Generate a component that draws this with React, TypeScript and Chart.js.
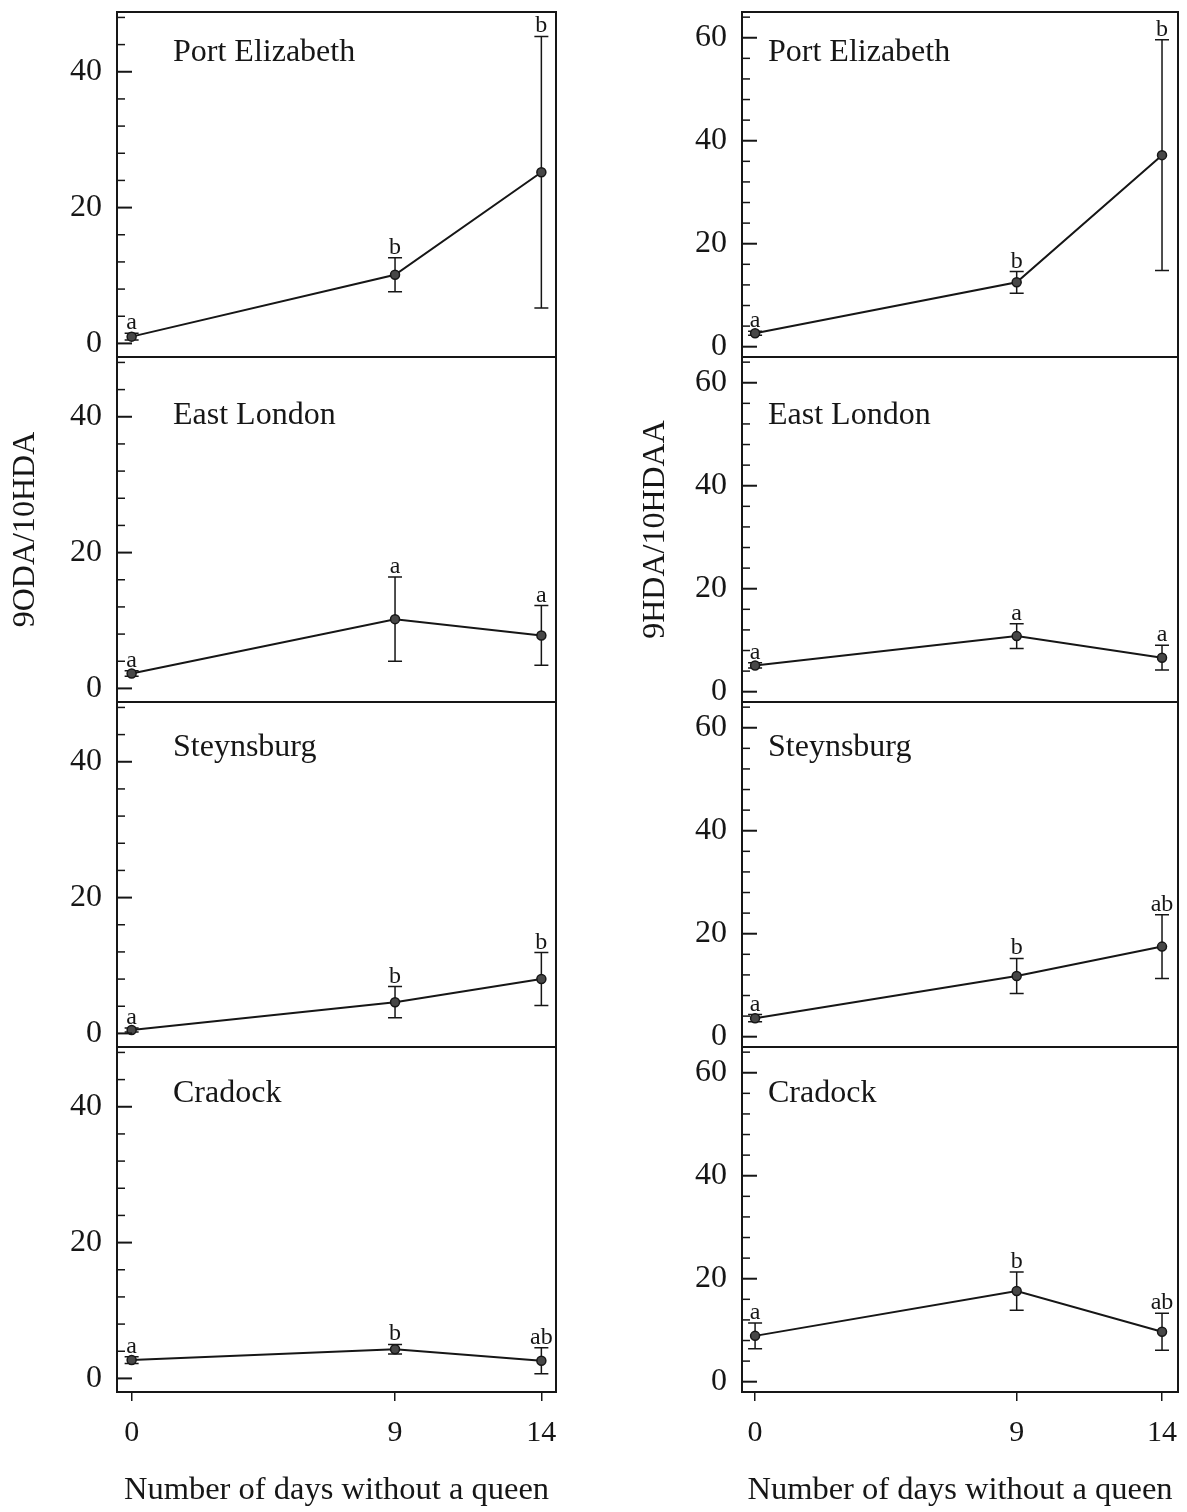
import React, { useEffect, useRef } from "react";
import { Chart, registerables } from "chart.js";

Chart.register(...registerables);

// ---------------- data ----------------
const DAYS = [0, 9, 14];
const SITES = ["Port Elizabeth", "East London", "Steynsburg", "Cradock"];
const X_TITLE = "Number of days without a queen";

// 9ODA/10HDA (left column)
const ODA_PE = [1.0, 10.1, 25.2];
const ODA_PE_ERR = [0.5, 2.5, 20.0];
const ODA_PE_LET = ["a", "b", "b"];
const ODA_EL = [2.2, 10.2, 7.8];
const ODA_EL_ERR = [0.4, 6.2, 4.4];
const ODA_EL_LET = ["a", "a", "a"];
const ODA_ST = [0.5, 4.6, 8.0];
const ODA_ST_ERR = [0.3, 2.3, 3.9];
const ODA_ST_LET = ["a", "b", "b"];
const ODA_CR = [2.7, 4.3, 2.6];
const ODA_CR_ERR = [0.5, 0.7, 1.9];
const ODA_CR_LET = ["a", "b", "ab"];

// 9HDA/10HDAA (right column)
const HDA_PE = [2.6, 12.5, 37.2];
const HDA_PE_ERR = [0.4, 2.1, 22.4];
const HDA_PE_LET = ["a", "b", "b"];
const HDA_EL = [5.1, 10.8, 6.6];
const HDA_EL_ERR = [0.5, 2.4, 2.4];
const HDA_EL_LET = ["a", "a", "a"];
const HDA_ST = [3.6, 11.8, 17.5];
const HDA_ST_ERR = [0.7, 3.4, 6.2];
const HDA_ST_LET = ["a", "b", "ab"];
const HDA_CR = [8.9, 17.6, 9.7];
const HDA_CR_ERR = [2.5, 3.7, 3.6];
const HDA_CR_LET = ["a", "b", "ab"];

const LEFT_Y_TICKS = [0, 4, 8, 12, 16, 20, 24, 28, 32, 36, 40, 44, 48];
const RIGHT_Y_TICKS = [0, 4, 8, 12, 16, 20, 24, 28, 32, 36, 40, 44, 48, 52, 56, 60, 64];

// ---------------- style / layout ----------------
const FONT = "'Liberation Serif', 'Times New Roman', 'DejaVu Serif', serif";
const INK = "#161616";
const TITLE_DY = [41, 59, 46, 47];

type Series = { name: string; mean: number[]; err: number[]; letters: string[] };
type Col = {
  left: number;
  width: number;
  axisWidth: number;
  padRight: number;
  xMin: number;
  xMax: number;
  yMin: number;
  yMax: number;
  yTicks: number[];
  yTitle: string;
  yTitlePad: number;
  titleDx: number;
  series: Series[];
};

const LEFT_COL: Col = {
  left: 0,
  width: 596,
  axisWidth: 117,
  padRight: 40,
  xMin: -0.5,
  xMax: 14.5,
  yMin: -2,
  yMax: 48.8,
  yTicks: LEFT_Y_TICKS,
  yTitle: "9ODA/10HDA",
  yTitlePad: 10,
  titleDx: 56,
  series: [
    { name: SITES[0], mean: ODA_PE, err: ODA_PE_ERR, letters: ODA_PE_LET },
    { name: SITES[1], mean: ODA_EL, err: ODA_EL_ERR, letters: ODA_EL_LET },
    { name: SITES[2], mean: ODA_ST, err: ODA_ST_ERR, letters: ODA_ST_LET },
    { name: SITES[3], mean: ODA_CR, err: ODA_CR_ERR, letters: ODA_CR_LET },
  ],
};

const RIGHT_COL: Col = {
  left: 596,
  width: 591,
  axisWidth: 146,
  padRight: 9,
  xMin: -0.45,
  xMax: 14.55,
  yMin: -2,
  yMax: 65,
  yTicks: RIGHT_Y_TICKS,
  yTitle: "9HDA/10HDAA",
  yTitlePad: 44,
  titleDx: 26,
  series: [
    { name: SITES[0], mean: HDA_PE, err: HDA_PE_ERR, letters: HDA_PE_LET },
    { name: SITES[1], mean: HDA_EL, err: HDA_EL_ERR, letters: HDA_EL_LET },
    { name: SITES[2], mean: HDA_ST, err: HDA_ST_ERR, letters: HDA_ST_LET },
    { name: SITES[3], mean: HDA_CR, err: HDA_CR_ERR, letters: HDA_CR_LET },
  ],
};

function zeroPad(s: any) {
  s.paddingTop = 0;
  s.paddingBottom = 0;
  s.paddingLeft = 0;
  s.paddingRight = 0;
}

function buildColumn(canvas: HTMLCanvasElement, col: Col) {
  const yIds = col.series.map((_, i) => "y" + i);
  const n = col.series.length;

  const scales: any = {
    x: {
      type: "linear",
      position: "bottom",
      min: col.xMin,
      max: col.xMax,
      afterBuildTicks: (s: any) => {
        s.ticks = DAYS.map((v) => ({ value: v }));
      },
      afterFit: (s: any) => {
        s.height = 120;
        zeroPad(s);
      },
      grid: {
        display: true,
        drawOnChartArea: false,
        drawTicks: true,
        tickLength: 9,
        color: INK,
        lineWidth: 1.5,
      },
      border: { display: false },
      ticks: {
        autoSkip: false,
        maxRotation: 0,
        padding: 14,
        color: INK,
        font: { family: FONT, size: 30 },
        callback: (v: any) => String(v),
      },
      title: {
        display: true,
        text: X_TITLE,
        color: INK,
        font: { family: FONT, size: 32.5, lineHeight: 1 },
        padding: { top: 0, bottom: 5 },
      },
    },
  };

  col.series.forEach((_, i) => {
    scales[yIds[i]] = {
      type: "linear",
      position: "left",
      stack: "col",
      stackWeight: 1,
      weight: n - i,
      min: col.yMin,
      max: col.yMax,
      afterBuildTicks: (s: any) => {
        s.ticks = col.yTicks.map((v) => ({ value: v }));
      },
      afterFit: (s: any) => {
        s.width = col.axisWidth;
        zeroPad(s);
      },
      grid: { display: false, drawTicks: false },
      border: { display: false },
      ticks: {
        autoSkip: false,
        padding: 15,
        color: INK,
        font: { family: FONT, size: 32 },
        callback: (v: any) => (Number(v) % 20 === 0 ? String(v) : ""),
      },
      title: {
        display: i === 1,
        text: col.yTitle,
        color: INK,
        font: { family: FONT, size: 32, lineHeight: 1 },
        padding: { top: col.yTitlePad, bottom: 0 },
      },
    };
  });

  const datasets = col.series.map((s, i) => ({
    label: s.name,
    data: DAYS.map((d, j) => ({ x: d, y: s.mean[j] })),
    xAxisID: "x",
    yAxisID: yIds[i],
    borderColor: INK,
    borderWidth: 2,
    pointRadius: 4.5,
    pointBackgroundColor: "#474747",
    pointBorderColor: INK,
    pointBorderWidth: 1.5,
    tension: 0,
    fill: false,
  }));

  const panelPlugin = {
    id: "panelDecor",
    beforeDatasetsDraw(chart: any) {
      const ctx = chart.ctx;
      const xs = chart.scales.x;
      ctx.save();
      ctx.strokeStyle = INK;
      ctx.lineWidth = 1.5;
      col.series.forEach((s, i) => {
        const ys = chart.scales[yIds[i]];
        DAYS.forEach((d, j) => {
          const px = xs.getPixelForValue(d);
          const top = ys.getPixelForValue(s.mean[j] + s.err[j]);
          const bot = ys.getPixelForValue(s.mean[j] - s.err[j]);
          ctx.beginPath();
          ctx.moveTo(px, top);
          ctx.lineTo(px, bot);
          ctx.moveTo(px - 7, top);
          ctx.lineTo(px + 7, top);
          ctx.moveTo(px - 7, bot);
          ctx.lineTo(px + 7, bot);
          ctx.stroke();
        });
      });
      ctx.restore();
    },
    afterDatasetsDraw(chart: any) {
      const ctx = chart.ctx;
      const area = chart.chartArea;
      const xs = chart.scales.x;
      ctx.save();
      ctx.strokeStyle = INK;
      ctx.fillStyle = INK;

      // frame
      ctx.lineWidth = 2;
      ctx.strokeRect(area.left, area.top, area.right - area.left, area.bottom - area.top);
      for (let i = 1; i < n; i++) {
        const yTop = chart.scales[yIds[i]].top;
        ctx.beginPath();
        ctx.moveTo(area.left, yTop);
        ctx.lineTo(area.right, yTop);
        ctx.stroke();
      }

      // inward y ticks
      col.series.forEach((_, i) => {
        const ys = chart.scales[yIds[i]];
        ys.ticks.forEach((t: any) => {
          const py = ys.getPixelForValue(t.value);
          const major = t.value % 20 === 0;
          ctx.lineWidth = major ? 2 : 1.5;
          ctx.beginPath();
          ctx.moveTo(area.left, py);
          ctx.lineTo(area.left + (major ? 15 : 8), py);
          ctx.stroke();
        });
      });

      // significance letters
      ctx.font = `24px ${FONT}`;
      ctx.textAlign = "center";
      ctx.textBaseline = "alphabetic";
      col.series.forEach((s, i) => {
        const ys = chart.scales[yIds[i]];
        DAYS.forEach((d, j) => {
          const px = xs.getPixelForValue(d);
          const top = ys.getPixelForValue(s.mean[j] + s.err[j]);
          ctx.fillText(s.letters[j], px, top - 4);
        });
      });

      // panel titles
      ctx.font = `32px ${FONT}`;
      ctx.textAlign = "left";
      ctx.textBaseline = "middle";
      col.series.forEach((s, i) => {
        const ys = chart.scales[yIds[i]];
        ctx.fillText(s.name, area.left + col.titleDx, ys.top + TITLE_DY[i]);
      });
      ctx.restore();
    },
  };

  return new Chart(canvas, {
    type: "line",
    data: { datasets } as any,
    options: {
      responsive: false,
      animation: false,
      devicePixelRatio: 1,
      layout: { padding: { top: 12, right: col.padRight, bottom: 0, left: 0 } },
      plugins: { legend: { display: false }, tooltip: { enabled: false } },
      scales,
    } as any,
    plugins: [panelPlugin],
  });
}

export default function App() {
  const leftRef = useRef<HTMLCanvasElement>(null);
  const rightRef = useRef<HTMLCanvasElement>(null);

  useEffect(() => {
    const charts: Chart[] = [];
    if (leftRef.current) charts.push(buildColumn(leftRef.current, LEFT_COL));
    if (rightRef.current) charts.push(buildColumn(rightRef.current, RIGHT_COL));
    return () => charts.forEach((c) => c.destroy());
  }, []);

  return (
    <div style={{ position: "absolute", left: 0, top: 0, width: 1187, height: 1512, background: "#fff" }}>
      <canvas
        ref={leftRef}
        width={LEFT_COL.width}
        height={1512}
        style={{ position: "absolute", left: LEFT_COL.left, top: 0, width: LEFT_COL.width, height: 1512 }}
      />
      <canvas
        ref={rightRef}
        width={RIGHT_COL.width}
        height={1512}
        style={{ position: "absolute", left: RIGHT_COL.left, top: 0, width: RIGHT_COL.width, height: 1512 }}
      />
    </div>
  );
}
